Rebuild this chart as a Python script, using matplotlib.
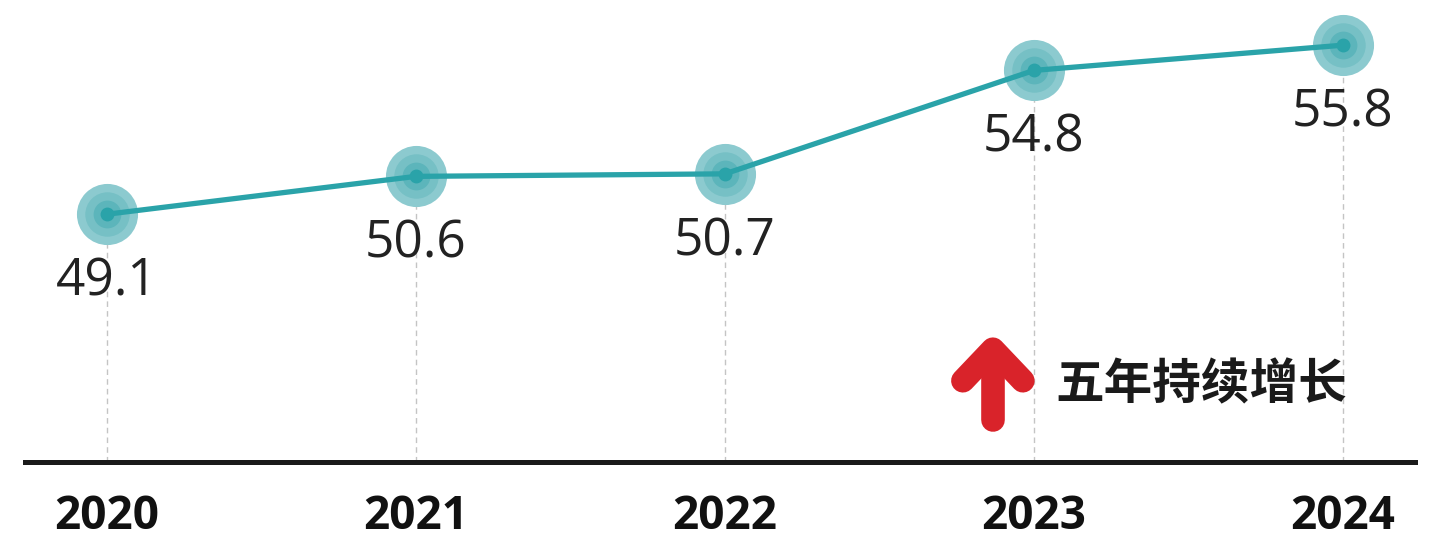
import matplotlib
matplotlib.use('Agg')
import matplotlib.pyplot as plt

# Data
years = [2020, 2021, 2022, 2023, 2024]
values = [49.1, 50.6, 50.7, 54.8, 55.8]
year_labels = ['2020', '2021', '2022', '2023', '2024']
note = '五年持续增长'

line_col = '#2aa3a9'

fig = plt.figure(figsize=(14.37, 5.37), dpi=100)
ax = fig.add_axes([25 / 1437, 75 / 537, 1390 / 1437, 462 / 537])
ax.set_xlim(2019.735, 2024.233)
ax.set_ylim(39.28, 57.59)

# dashed guides from each point down to the baseline
for x, v in zip(years, values):
    ax.plot([x, x], [39.28, v], color='#c4c4c4', lw=1.0,
            linestyle=(0, (4, 3)), zorder=1)

# soft marker halos
ax.plot(years, values, 'o', ms=44, color='#8ccacf', mec='none', zorder=2)
ax.plot(years, values, 'o', ms=32, color='#76c0c5', mec='none', zorder=2)
ax.plot(years, values, 'o', ms=20, color='#5cb5bb', mec='none', zorder=2)
# line
ax.plot(years, values, color=line_col, lw=3.8, solid_capstyle='round', zorder=3)
ax.plot(years, values, 'o', ms=10, color=line_col, mec='none', zorder=4)

# value labels
for x, v in zip(years, values):
    ax.annotate(f'{v:.1f}', (x, v), xytext=(0, -49), textcoords='offset points',
                ha='center', va='center', fontsize=37, family='Open Sans',
                fontweight='medium', color='#222222', zorder=5)

# axis
for s in ['top', 'right', 'left']:
    ax.spines[s].set_visible(False)
ax.spines['bottom'].set_linewidth(3.6)
ax.spines['bottom'].set_color('#1a1a1a')
ax.set_yticks([])
ax.set_xticks(years)
ax.set_xticklabels(year_labels, fontsize=33, fontweight='bold',
                   family='Open Sans', color='#111111')
ax.tick_params(axis='x', length=0, pad=22)

# red up arrow
arrow_x = 2022.867
ax.plot([arrow_x, arrow_x], [40.95, 43.6], color='#d9232a', lw=17,
        solid_capstyle='round', zorder=5)
ax.plot([2022.77, arrow_x, 2022.964], [42.5, 43.75, 42.5], color='#d9232a',
        lw=17, solid_capstyle='round', solid_joinstyle='round', zorder=5)

ax.text(2023.068, 42.33, note, ha='left', va='center', fontsize=35,
        fontweight='bold', family=['Noto Sans CJK SC', 'DejaVu Sans'],
        color='#1a1a1a', zorder=5)

fig.savefig('out.png', dpi=100, facecolor='white')
